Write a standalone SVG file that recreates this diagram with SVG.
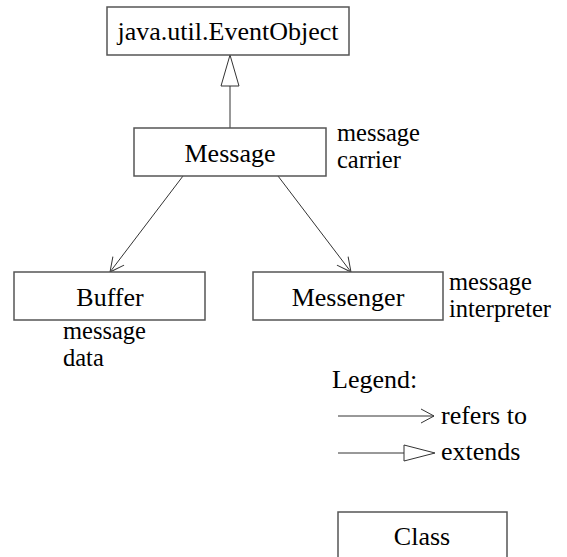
<svg xmlns="http://www.w3.org/2000/svg" width="567" height="557" viewBox="0 0 567 557">
<style>
  .box { fill: #fff; stroke: #555; stroke-width: 1.5; }
  .t { font-family: "Liberation Serif", "Times New Roman", serif; font-size: 26px; fill: #000; }
  .n { font-family: "Liberation Serif", "Times New Roman", serif; font-size: 24.5px; fill: #000; }
  .c { text-anchor: middle; }
  .ln { stroke: #333; stroke-width: 1; fill: none; }
  .tri { stroke: #333; stroke-width: 1; fill: #fff; }
</style>
<defs>
  <marker id="open" markerWidth="16" markerHeight="16" refX="15" refY="8" orient="auto" markerUnits="userSpaceOnUse">
    <path d="M1,1 L15,8 L1,15" fill="none" stroke="#333" stroke-width="1"/>
  </marker>
</defs>
<rect width="567" height="557" fill="#fff"/>
<g id="connectors">
  <path class="ln" d="M230,86 L230,128"/>
  <path class="tri" d="M230,55 L239,86 L221,86 Z"/>
  <path class="ln" d="M183,176 L110,272" marker-end="url(#open)"/>
  <path class="ln" d="M278,176 L351,272" marker-end="url(#open)"/>
</g>
<g id="eventobject">
  <rect class="box" x="107" y="7" width="242" height="48"/>
  <text class="t c" x="228" y="40">java.util.EventObject</text>
</g>
<g id="message">
  <rect class="box" x="134" y="128" width="192" height="48"/>
  <text class="t c" x="230" y="162">Message</text>
  <text class="n" x="337" y="141">message</text>
  <text class="n" x="337" y="168">carrier</text>
</g>
<g id="buffer">
  <rect class="box" x="14" y="272" width="191" height="48"/>
  <text class="t c" x="110" y="306">Buffer</text>
  <text class="n" x="63" y="339">message</text>
  <text class="n" x="63" y="366">data</text>
</g>
<g id="messenger">
  <rect class="box" x="253" y="272" width="190" height="48"/>
  <text class="t c" x="348" y="306">Messenger</text>
  <text class="n" x="449" y="290">message</text>
  <text class="n" x="449" y="317">interpreter</text>
</g>
<g id="legend">
  <text class="t" x="332" y="388">Legend:</text>
  <path class="ln" d="M338,416 L434,416"/>
  <path class="ln" d="M421,409 L434,416 L421,423"/>
  <text class="t" x="441" y="424">refers to</text>
  <path class="ln" d="M338,453 L404,453"/>
  <path class="tri" d="M404,445 L435,453 L404,461 Z"/>
  <text class="t" x="441" y="460">extends</text>
</g>
<g id="class">
  <rect class="box" x="338" y="512" width="169" height="50"/>
  <text class="t c" x="422" y="545">Class</text>
</g>
</svg>
